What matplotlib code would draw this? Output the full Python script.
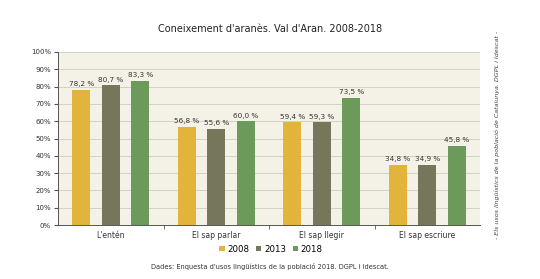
import matplotlib.pyplot as plt
import numpy as np

categories = ["L'entén", "El sap parlar", "El sap llegir", "El sap escriure"]
years = ["2008", "2013", "2018"]
v2008 = [78.2, 56.8, 59.4, 34.8]
v2013 = [80.7, 55.6, 59.3, 34.9]
v2018 = [83.3, 60.0, 73.5, 45.8]
colors = ["#e2b43c", "#76765a", "#6b9a5b"]

fig = plt.figure(figsize=(5.4, 2.79), dpi=100)
ax = fig.add_axes([58 / 540, 1 - 225 / 279, 422 / 540, 173 / 279])
ax.set_facecolor("#f4f2e6")

x = np.arange(len(categories))
offsets = [-0.28, 0, 0.28]
for vals, off, c, yr in zip([v2008, v2013, v2018], offsets, colors, years):
    bars = ax.bar(x + off, vals, width=0.17, color=c, label=yr, zorder=3)
    for b, v in zip(bars, vals):
        ax.text(b.get_x() + b.get_width() / 2, v + 1.5,
                f"{v:.1f} %".replace(".", ","), ha="center", va="bottom",
                fontsize=5.2, color="#333333")

ax.set_xlim(-0.5, 3.5)
ax.set_ylim(0, 100)
ax.set_yticks(range(0, 101, 10))
ax.set_yticklabels([f"{t}%" for t in range(0, 101, 10)], fontsize=5, color="#333333")
ax.set_xticks(x)
ax.set_xticklabels(categories, fontsize=5.5, color="#333333")
ax.set_xticks(np.arange(0.5, 3.5, 1), minor=True)
ax.tick_params(axis="x", which="major", length=0, pad=4)
ax.tick_params(axis="x", which="minor", length=3, color="#555555")
ax.tick_params(axis="y", length=3, pad=2, color="#555555")
ax.grid(axis="y", color="#d4d2c6", linewidth=0.7, zorder=0)
for s in ["top", "right"]:
    ax.spines[s].set_visible(False)
ax.spines["left"].set_color("#555555")
ax.spines["bottom"].set_color("#555555")
ax.spines["left"].set_linewidth(0.7)
ax.spines["bottom"].set_linewidth(0.7)

fig.text(0.5, 1 - 29 / 279, "Coneixement d'aranès. Val d'Aran. 2008-2018",
         ha="center", va="center", fontsize=7, fontweight="medium", color="#222222")
leg = fig.legend(loc="center", bbox_to_anchor=(271 / 540, 1 - 249 / 279), ncol=3,
                 frameon=False, fontsize=6.2, handlelength=0.6, handleheight=0.6,
                 handletextpad=0.3, columnspacing=0.8)
fig.text(270 / 540, 1 - 266 / 279,
         "Dades: Enquesta d'usos lingüístics de la població 2018. DGPL i Idescat.",
         ha="center", va="center", fontsize=4.8, color="#333333")
fig.text(497 / 540, 1 - 135 / 279,
         "- Els usos lingüístics de la població de Catalunya. DGPL i Idescat -",
         ha="center", va="center", rotation=90, fontsize=4.6, style="italic",
         color="#444444")

fig.savefig("out.png", dpi=100)
